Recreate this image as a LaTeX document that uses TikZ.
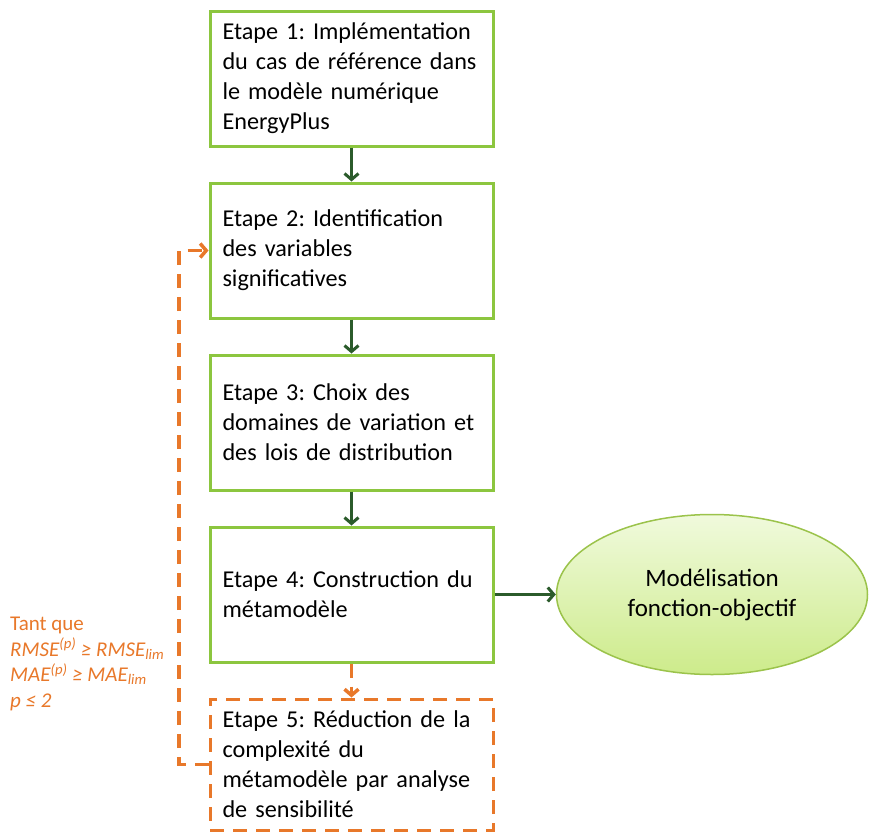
\documentclass[tikz,border=0pt]{standalone}
\usepackage{fontspec}
\setmainfont{Carlito}
\usetikzlibrary{arrows.meta,positioning,shapes.geometric}
\definecolor{leaf}{HTML}{8CC63F}
\definecolor{forest}{HTML}{2B5B2B}
\definecolor{tangerine}{HTML}{E8782A}
\definecolor{rim}{HTML}{9BC34B}
\frenchspacing

\begin{document}
\begin{tikzpicture}[x=1pt,y=1pt,node distance=34pt,
    etape/.style={draw=leaf,line width=3pt,minimum width=283pt,minimum height=135pt,
      text width=258pt,inner xsep=12.5pt,align=left,font=\fontsize{24.2}{30}\selectfont},
    flow/.style={forest,line width=3pt,-{Straight Barb[length=6pt,width=14pt]}},
    loop/.style={tangerine,line width=3.5pt,dash pattern=on 14pt off 9pt},
    goal/.style={ellipse,draw=rim,line width=1.5pt,minimum width=311pt,minimum height=160pt,
      top color={rgb,255:red,240;green,250;blue,220},bottom color={rgb,255:red,205;green,235;blue,139},
      align=center,font=\fontsize{25}{30}\selectfont}]
  \useasboundingbox (0,0) rectangle (870,-835);
  \node[etape] (e1) at (351.5,-78.5) {Etape 1: Implémentation\\du cas de référence dans\\le modèle numérique\\EnergyPlus};
  \node[etape,below=of e1] (e2) {Etape 2: Identification\\des variables\\significatives};
  \node[etape,below=of e2] (e3) {Etape 3: Choix des\\domaines de variation et\\des lois de distribution};
  \node[etape,below=of e3] (e4) {Etape 4: Construction du\\métamodèle};
  \node[etape,below=of e4,minimum height=131pt,draw=tangerine,dash pattern=on 14pt off 9pt] (e5) {Etape 5: Réduction de la\\complexité du\\métamodèle par analyse\\de sensibilité};
  \node[goal] (obj) at (712,-594.5) {Modélisation\\fonction-objectif};
  \node[tangerine,anchor=north west,align=left,inner sep=0pt,font=\fontsize{21}{25.5}\selectfont] (cond) at (10,-617)
    {Tant que\\\textit{RMSE\textsuperscript{(p)} ≥ RMSE\textsubscript{lim}}\\\textit{MAE\textsuperscript{(p)} ≥ MAE\textsubscript{lim}}\\\textit{p ≤ 2}};
  \coordinate (back) at (179,0);

  \draw[flow] (e1) -- (e2);
  \draw[flow] (e2) -- (e3);
  \draw[flow] (e3) -- (e4);
  \draw[flow] (e4) -- (obj);
  \draw[loop,-{Straight Barb[length=6pt,width=14pt]}] (e4) -- (e5);
  \draw[loop,-{Straight Barb[length=6pt,width=14pt]}] (e5.west) -- (e5.west -| back) -- (e2.west -| back) -- (e2.west);
\end{tikzpicture}
\end{document}
